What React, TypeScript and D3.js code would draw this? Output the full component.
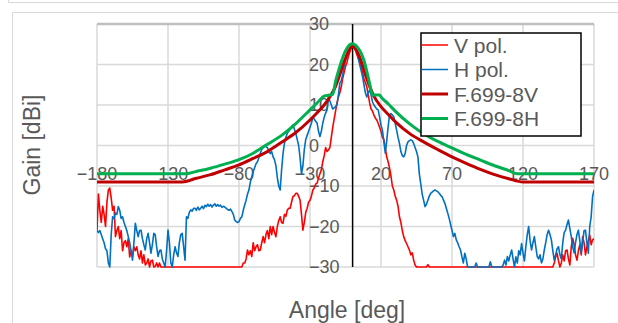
import { useEffect, useRef } from "react"
import * as d3 from "d3"

// measured patterns, one value per degree starting at -180
const angleStart = -180
const angleStep = 1

const vPol = [
  -21, -12, -16, -19, -15, -17, -20, -14, -11, -10.5,
  -13, -16, -15, -22.5, -21, -20, -23, -21, -26, -24,
  -23.5, -25, -23, -27.5, -26, -27.4, -25, -26, -25, -27,
  -28, -26, -29, -27, -29.5, -29, -28, -30, -28.5, -28.3,
  -30, -29.9, -29, -30, -29, -30, -30, -30, -30, -30,
  -30, -30, -30, -30, -30, -30, -30, -30, -30, -30,
  -30, -30, -30, -30, -30, -30, -30, -30, -30, -30,
  -30, -30, -30, -30, -30, -30, -30, -30, -30, -30,
  -30, -30, -30, -30, -30, -30, -30, -30, -30, -30,
  -30, -30, -30, -30, -30, -30, -30, -30, -30, -30,
  -30, -30, -30, -29, -29, -28, -25.8, -27, -26, -27.4,
  -24, -26, -25, -24.5, -26, -25.8, -24, -22.5, -24, -22,
  -21, -23, -20, -22, -20, -21.5, -22.5, -20, -18.5, -17.6,
  -19, -19.2, -17, -17.5, -16, -15.5, -15.5, -14, -12.6, -12.4,
  -11.8, -11.8, -12.5, -13.5, -17, -20.9, -19, -16.5, -15.5, -14,
  -13.5, -12.5, -11, -10.5, -9.5, -9.3, -8, -7, -6, -4,
  -2.5, -0.5, -1.5, -1.1, -0.5, 2, 4.5, 6.5, 8.5, 10.5,
  12, 13, 14.5, 16.5, 18, 19.5, 20.5, 22, 23, 24,
  24.5, 24.2, 23.5, 22.5, 21.5, 21, 19.5, 18, 16.5, 15.5,
  14.5, 12.5, 10.5, 9, 8.5, 7.5, 6.8, 6.3, 5.5, 4.5,
  3.5, 2, 1.5, -0.5, -2.8, -4, -5.5, -7.5, -10, -11,
  -12.5, -13.5, -15, -17.6, -19, -21, -22.5, -23.5, -24.2, -25,
  -25.8, -27, -26.5, -28.3, -29.5, -30, -30, -30, -30, -30,
  -30, -30, -30, -29.4, -30, -30, -30, -30, -30, -30,
  -30, -30, -30, -30, -30, -30, -30, -30, -30, -30,
  -30, -30, -30, -30, -30, -30, -30, -30, -30, -30,
  -30, -30, -30, -30, -30, -30, -30, -30, -30, -30,
  -30, -30, -30, -30, -30, -30, -30, -30, -30, -30,
  -30, -30, -30, -30, -30, -30, -30, -30, -30, -30,
  -30, -30, -30, -30, -30, -30, -30, -30, -30, -30,
  -30, -30, -30, -30, -30, -30, -30, -30, -30, -30,
  -30, -30, -30, -30, -30, -30, -30, -30, -30, -30,
  -30, -30, -29, -27.5, -26.6, -28.5, -30, -29, -27, -28.5,
  -26, -25.8, -28, -29.5, -25, -22.9, -24.5, -27, -28.3, -26,
  -24.5, -27, -22.5, -24, -27, -25, -23.5, -22.1, -24.5, -23.3,
  -23,
]

const hPol = [
  -21, -21.5, -21, -22, -23, -24, -25.5, -26, -29, -30,
  -22, -17.6, -18, -16.7, -17, -15.1, -16, -18, -17.6, -19,
  -20, -21, -22.5, -24, -26, -28.3, -24, -19.2, -21, -22.5,
  -21, -20.9, -23, -24.5, -25.8, -23, -21.7, -24, -26.6, -24.5,
  -21.7, -22, -25, -27.4, -26, -25.8, -28, -29, -30, -26,
  -20.9, -24, -29, -30, -27, -25, -26.5, -27.4, -24, -22,
  -21.7, -25, -28.3, -17.6, -18, -16.5, -15.9, -16.2, -15.5, -15.5,
  -16, -15.2, -15.9, -15.5, -15, -15.6, -14.8, -15.1, -14.5, -15,
  -14.6, -15.2, -14.7, -14.4, -15, -14.6, -15, -14.7, -15.3, -15,
  -15.2, -15.5, -15.8, -16, -15.7, -16.3, -17, -18.4, -18.8, -19,
  -18.8, -18, -17.6, -16, -14.7, -13.5, -12, -11, -9, -7.7,
  -6.5, -5.5, -4.5, -4, -3, -1.9, -1, -0.5, 0, -0.3,
  -0.5, -1.5, -2, -1.5, -2.8, -3.5, -5, -8, -10, -11,
  -6, -2, 0.5, 2, 3, 3.5, 4, 4.5, 5.1, 4,
  3, 1.5, 0, -3, -7, -5, -1, 1.5, 2.5, 3.5,
  4.5, 5.5, 7.1, 6.5, 6, 5.5, 3.5, 2.2, 3.5, 5.5,
  7, 8, 8.8, 12, 11, 10, 9, 9.3, 9.6, 10,
  12.5, 15.4, 16, 17.5, 19.5, 21.1, 22.2, 23.6, 24, 24.4,
  24.5, 24.3, 24, 23.6, 21.5, 20, 18.5, 17, 15, 13,
  12, 13, 13.7, 12.5, 10.8, 10, 9.5, 9, 8.8, 7,
  5, 3.8, 1, -1.9, 1, 4.6, 7.5, 7.9, 7.5, 7.1,
  5.5, 3.8, 2, 0.5, -1.5, -2.5, -2.8, -2, 0, 0.9,
  1.2, 1.4, 1.2, 0.5, -0.5, -1.5, -2.8, -7, -9.5, -12,
  -13.5, -15.1, -14.5, -13.5, -12.5, -11.8, -11.5, -11.2, -11, -11.2,
  -11.4, -11.8, -12.3, -12.6, -13.5, -14.3, -15.5, -16.7, -18, -19.5,
  -21, -22.5, -21.7, -23.3, -24, -25, -25.8, -27.5, -29, -26.6,
  -28, -30, -30, -30, -30, -30, -30, -29, -30, -30,
  -30, -30, -30, -30, -30, -30, -30, -28.7, -30, -30,
  -30, -30, -30, -30, -30, -30, -29.5, -28.3, -29.5, -27.4,
  -28.5, -27, -25.8, -28, -30, -27.5, -29, -26, -27, -24.2,
  -26.5, -28.5, -25, -22, -20, -23.5, -25.8, -24, -22.5, -25,
  -27.4, -28, -27, -29, -28, -25.8, -24, -22, -20.9, -22,
  -23.3, -26, -28.3, -27, -25.5, -25, -27, -28, -24, -21.5,
  -20.9, -19.5, -18.4, -20.5, -22.5, -25, -26.5, -24, -22, -20.9,
  -23.5, -26.6, -24, -21, -20.9, -24, -26.6, -20, -17.6, -12.6,
  -11,
]

// F.699-8 reference envelopes
const envAnglesV = [-180, -120, -110, -100, -90, -80, -70, -60, -50, -40, -30, -25, -20, -15, -12, -10, -8, -6, -4, -2, 0, 2, 4, 6, 8, 10, 12, 15, 20, 25, 30, 40, 50, 60, 70, 80, 90, 100, 110, 120, 170]
const envV = [-9, -9, -8.1, -7.2, -6, -4.8, -3.2, -1.5, 0.8, 3.2, 6.3, 8.1, 10, 12.6, 14.6, 16.5, 18.6, 20.6, 22.4, 23.9, 24.5, 23.9, 22.6, 20.8, 18.6, 16.5, 14.6, 12.2, 9.6, 7.7, 5.9, 3, 0.9, -1, -2.8, -4.4, -5.9, -7.2, -8.2, -9, -9]

const envAnglesH = [-180, -118, -110, -100, -90, -80, -70, -65, -60, -50, -40, -30, -25, -20, -17, -14, -12, -10, -8, -6, -4, -2, 0, 2, 4, 6, 8, 10, 12, 14, 19, 20, 25, 30, 40, 50, 60, 70, 80, 90, 100, 110, 116, 170]
const envH = [-7, -7, -6.4, -5.6, -4.6, -3.5, -1.9, -0.8, 0.3, 2.5, 5.4, 8.8, 10.5, 12.2, 12.4, 12.6, 15.8, 18.3, 20.6, 22.6, 24, 24.9, 25.1, 24.8, 24, 22.8, 21, 18.3, 15.3, 12.5, 12.5, 12, 10.3, 8.5, 5.4, 2.9, 1, -0.6, -2.2, -3.6, -5, -6.2, -7, -7]

const xTicks = [-180, -130, -80, -30, 20, 70, 120, 170]
const yTicks = [-30, -20, -10, 0, 10, 20, 30]

const legendLabels = ["V pol.", "H pol.", "F.699-8V", "F.699-8H"]

const fmt = (d: number) => (d < 0 ? `\u2212${-d}` : `${d}`)

export default function App() {
  const svgRef = useRef<SVGSVGElement>(null)

  useEffect(() => {
    if (!svgRef.current) return
    const svg = d3.select(svgRef.current)
    svg.selectAll("*").remove()

    const font = "'Liberation Sans', Arial, sans-serif"
    const textColor = "#595959"
    const grid = "#d9d9d9"
    const plot = { left: 97, right: 594, top: 24, bottom: 267 }

    const x = d3.scaleLinear().domain([-180, 170]).range([plot.left, plot.right])
    const y = d3.scaleLinear().domain([-30, 30]).range([plot.bottom, plot.top])

    // page frame
    svg.append("rect").attr("width", 618).attr("height", 323).attr("fill", "white")
    svg.append("path").attr("d", "M8.5,0V2.5H618").attr("fill", "none").attr("stroke", grid)
    svg.append("path").attr("d", "M12.5,323V12.5H618").attr("fill", "none").attr("stroke", grid)

    // grid
    svg.selectAll(".vgrid")
      .data(xTicks)
      .enter()
      .append("line")
      .attr("x1", (d) => x(d))
      .attr("x2", (d) => x(d))
      .attr("y1", plot.top)
      .attr("y2", plot.bottom)
      .attr("stroke", grid)
      .attr("stroke-width", 1.5)

    svg.selectAll(".hgrid")
      .data(yTicks)
      .enter()
      .append("line")
      .attr("x1", plot.left)
      .attr("x2", plot.right)
      .attr("y1", (d) => y(d))
      .attr("y2", (d) => y(d))
      .attr("stroke", (d) => (d === 30 ? "#bfbfbf" : grid))
      .attr("stroke-width", (d) => (d === 30 ? 2.5 : 1.5))

    // tick labels (drawn under the series, as in the original)
    svg.selectAll(".xlab")
      .data(xTicks)
      .enter()
      .append("text")
      .attr("x", (d) => x(d))
      .attr("y", 174)
      .attr("text-anchor", "middle")
      .attr("dominant-baseline", "central")
      .style("font-family", font)
      .style("font-size", "18px")
      .style("fill", textColor)
      .text((d) => fmt(d))

    svg.selectAll(".ylab")
      .data(yTicks)
      .enter()
      .append("text")
      .attr("x", 309)
      .attr("y", (d) => y(d))
      .attr("dominant-baseline", "central")
      .style("font-family", font)
      .style("font-size", "18px")
      .style("fill", textColor)
      .text((d) => fmt(d))

    // vertical axis at 0 deg
    svg.append("line")
      .attr("x1", x(0))
      .attr("x2", x(0))
      .attr("y1", plot.top)
      .attr("y2", plot.bottom)
      .attr("stroke", "#000")
      .attr("stroke-width", 1.5)

    svg.append("clipPath")
      .attr("id", "plot-clip")
      .append("rect")
      .attr("x", plot.left)
      .attr("y", plot.top - 4)
      .attr("width", plot.right - plot.left)
      .attr("height", plot.bottom - plot.top + 6)

    const g = svg.append("g").attr("clip-path", "url(#plot-clip)")

    const measLine = d3
      .line<number>()
      .x((_, i) => x(angleStart + i * angleStep))
      .y((d) => y(d))

    g.append("path")
      .datum(vPol)
      .attr("fill", "none")
      .attr("stroke", "#ff0000")
      .attr("stroke-width", 1.6)
      .attr("stroke-linejoin", "round")
      .attr("d", measLine)

    g.append("path")
      .datum(hPol)
      .attr("fill", "none")
      .attr("stroke", "#0070c0")
      .attr("stroke-width", 1.6)
      .attr("stroke-linejoin", "round")
      .attr("d", measLine)

    const envLine = d3
      .line<[number, number]>()
      .x((d) => x(d[0]))
      .y((d) => y(d[1]))
      .curve(d3.curveMonotoneX)

    g.append("path")
      .datum(envAnglesV.map((a, i) => [a, envV[i]] as [number, number]))
      .attr("fill", "none")
      .attr("stroke", "#c00000")
      .attr("stroke-width", 3)
      .attr("d", envLine)

    g.append("path")
      .datum(envAnglesH.map((a, i) => [a, envH[i]] as [number, number]))
      .attr("fill", "none")
      .attr("stroke", "#00b050")
      .attr("stroke-width", 3)
      .attr("d", envLine)

    // axis titles
    svg.append("text")
      .attr("x", 347)
      .attr("y", 317.5)
      .attr("text-anchor", "middle")
      .style("font-family", font)
      .style("font-size", "23px")
      .style("fill", textColor)
      .text("Angle [deg]")

    svg.append("text")
      .attr("transform", "translate(40,145) rotate(-90)")
      .attr("text-anchor", "middle")
      .style("font-family", font)
      .style("font-size", "23px")
      .style("fill", textColor)
      .text("Gain [dBi]")

    // legend
    const legendItems = [
      { label: legendLabels[0], color: "#ff0000", w: 1.5 },
      { label: legendLabels[1], color: "#0070c0", w: 1.5 },
      { label: legendLabels[2], color: "#c00000", w: 3 },
      { label: legendLabels[3], color: "#00b050", w: 3 },
    ]

    const legend = svg.append("g").attr("transform", "translate(421,33)")
    legend.append("rect")
      .attr("width", 160)
      .attr("height", 103)
      .attr("fill", "white")
      .attr("stroke", "#000")
      .attr("stroke-width", 1.5)

    const item = legend
      .selectAll(".legend-item")
      .data(legendItems)
      .enter()
      .append("g")
      .attr("transform", (_, i) => `translate(0, ${12 + i * 24.5})`)

    item.append("line")
      .attr("x1", 1)
      .attr("x2", 27)
      .attr("stroke", (d) => d.color)
      .attr("stroke-width", (d) => d.w)

    item.append("text")
      .attr("x", 33)
      .attr("dominant-baseline", "central")
      .style("font-family", font)
      .style("font-size", "21px")
      .style("fill", textColor)
      .text((d) => d.label)
  }, [])

  return (
    <div style={{ position: "absolute", left: 0, top: 0 }}>
      <svg ref={svgRef} width={618} height={323} style={{ display: "block" }}></svg>
    </div>
  )
}
